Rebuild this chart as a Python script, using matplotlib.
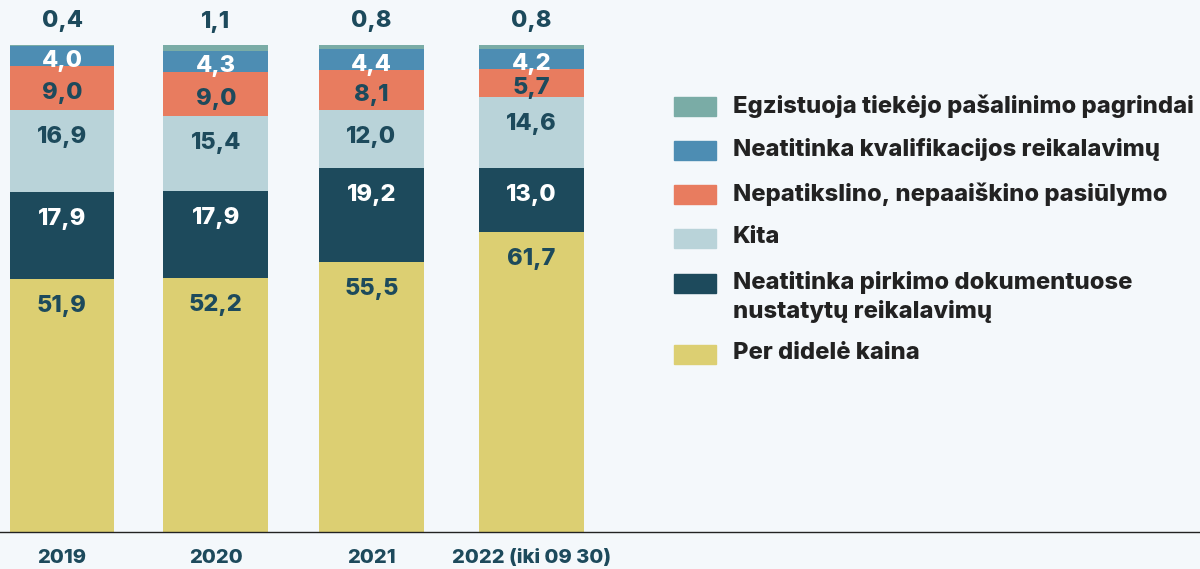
import matplotlib.pyplot as plt
from matplotlib.patches import Rectangle

plt.rcParams['font.family'] = ['Inter', 'DejaVu Sans']

# Data: shares of rejected bids by reason (%)
years = ['2019', '2020', '2021', '2022 (iki 09 30)']
per_didele_kaina = [51.9, 52.2, 55.5, 61.7]
neatitinka_pirkimo = [17.9, 17.9, 19.2, 13.0]
kita = [16.9, 15.4, 12.0, 14.6]
nepatikslino = [9.0, 9.0, 8.1, 5.7]
kvalifikacijos = [4.0, 4.3, 4.4, 4.2]
pasalinimo = [0.4, 1.1, 0.8, 0.8]

series = [
    ('Per didelė kaina', per_didele_kaina, '#dccf72', '#1d4a5c'),
    ('Neatitinka pirkimo dokumentuose\nnustatytų reikalavimų', neatitinka_pirkimo, '#1d4a5c', 'white'),
    ('Kita', kita, '#b9d3d9', '#1d4a5c'),
    ('Nepatikslino, nepaaiškino pasiūlymo', nepatikslino, '#e87c5f', '#1d4a5c'),
    ('Neatitinka kvalifikacijos reikalavimų', kvalifikacijos, '#4d8db3', 'white'),
    ('Egzistuoja tiekėjo pašalinimo pagrindai', pasalinimo, '#7aaca6', '#1d4a5c'),
]

BG = '#f4f8fb'
DARK = '#1d4a5c'
WEIGHT = 800

fig = plt.figure(figsize=(12, 5.69), dpi=100, facecolor=BG)
ax = fig.add_axes([0, 37 / 569, 1, 487 / 569])
ax.set_facecolor(BG)

x = [0, 0.99, 1.99, 3.02]
width = 0.675
bottom = [0.0] * len(years)
px_per_unit = 487 / 100

for i, (name, vals, color, tcolor) in enumerate(series):
    ax.bar(x, vals, width, bottom=bottom, color=color, linewidth=0)
    for j, v in enumerate(vals):
        top = bottom[j] + v
        label = f'{v:.1f}'.replace('.', ',')
        if i == len(series) - 1:
            # tiny top segment: value goes above the bar
            ax.annotate(label, (x[j], top), xytext=(0, 17), textcoords='offset points',
                        ha='center', va='center', fontsize=17, fontweight=WEIGHT, color=DARK)
        else:
            h_px = v * px_per_unit
            off_px = min(27, h_px / 2 + 5)
            ax.annotate(label, (x[j], top), xytext=(0, -off_px * 0.72), textcoords='offset points',
                        ha='center', va='center', fontsize=17, fontweight=WEIGHT, color=tcolor)
        bottom[j] = top

ax.set_ylim(0, 100)
ax.set_xlim(-0.399, 7.32)
ax.set_xticks(x)
ax.set_xticklabels(years, fontsize=14.5, fontweight=WEIGHT, color=DARK)
ax.tick_params(axis='x', length=0, pad=12)
ax.set_yticks([])
for side in ['top', 'right', 'left']:
    ax.spines[side].set_visible(False)
ax.spines['bottom'].set_color('#222222')
ax.spines['bottom'].set_linewidth(1)

# Legend drawn by hand on the right side
legend_rows = [
    ('#7aaca6', 'Egzistuoja tiekėjo pašalinimo pagrindai', 106),
    ('#4d8db3', 'Neatitinka kvalifikacijos reikalavimų', 150),
    ('#e87c5f', 'Nepatikslino, nepaaiškino pasiūlymo', 194),
    ('#b9d3d9', 'Kita', 238),
    ('#1d4a5c', 'Neatitinka pirkimo dokumentuose\nnustatytų reikalavimų', 283),
    ('#dccf72', 'Per didelė kaina', 354),
]
H = 569
for color, text, yc in legend_rows:
    fig.patches.append(Rectangle((674 / 1200, (H - yc - 9.5) / H), 42 / 1200, 19 / H,
                                 transform=fig.transFigure, color=color))
    fig.text(733 / 1200, (H - yc + 12) / H, text, ha='left', va='top', fontsize=17.1,
             fontweight=WEIGHT, color='#222222', linespacing=1.35)

fig.savefig('out.png', dpi=100, facecolor=BG)
